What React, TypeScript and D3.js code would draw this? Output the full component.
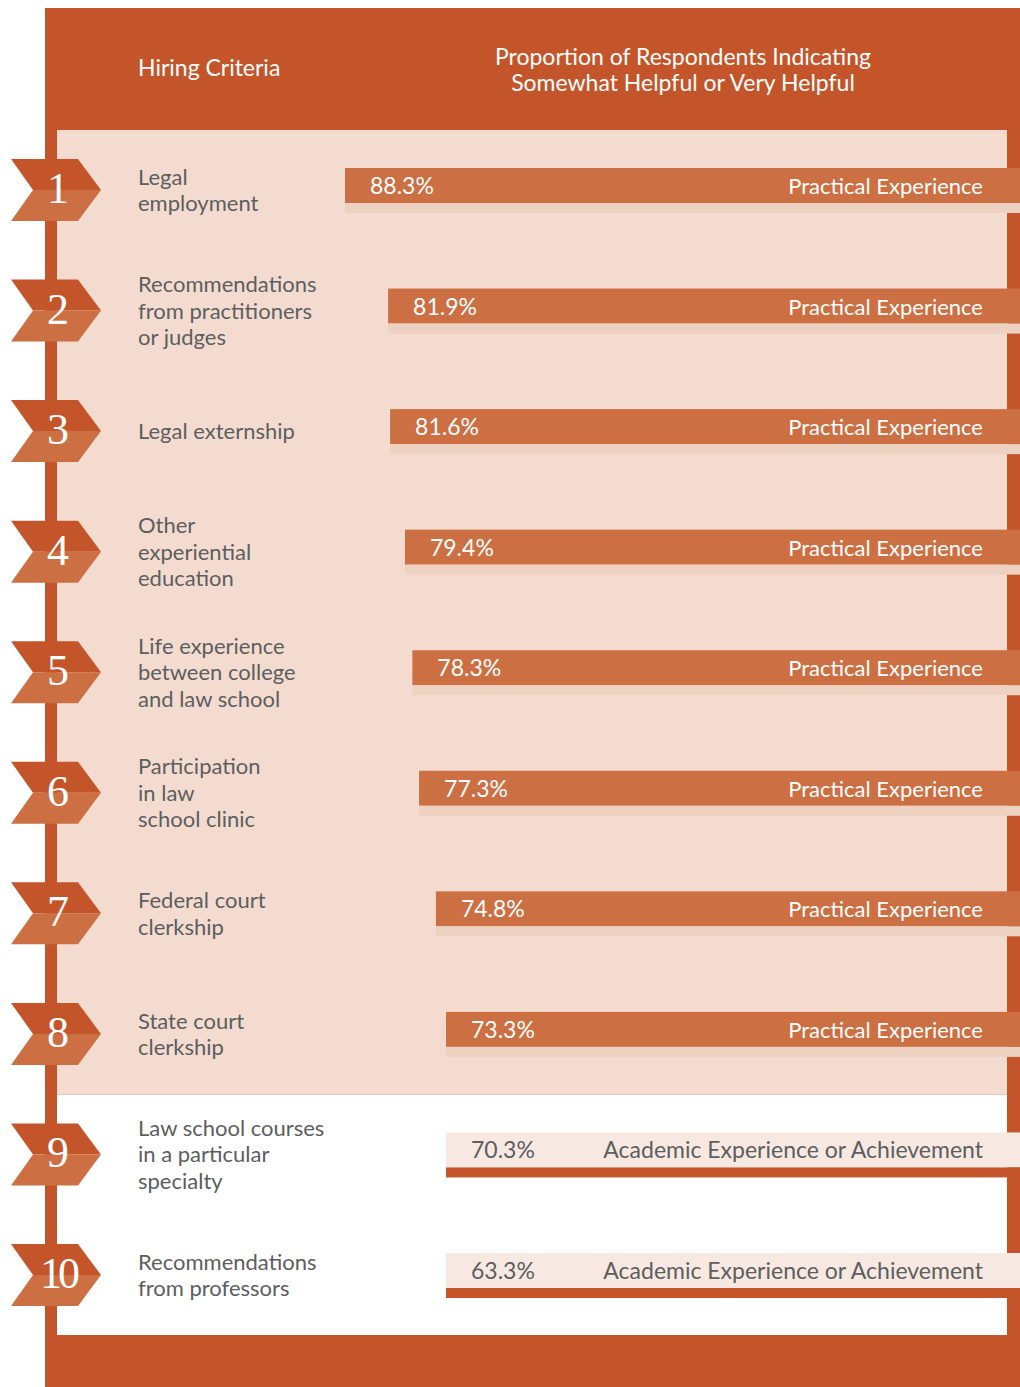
import * as d3 from 'd3';

// hiring criteria, top to bottom
const ranks = ['1', '2', '3', '4', '5', '6', '7', '8', '9', '10'];
const criteria = [
  ['Legal', 'employment'],
  ['Recommendations', 'from practitioners', 'or judges'],
  ['Legal externship'],
  ['Other', 'experiential', 'education'],
  ['Life experience', 'between college', 'and law school'],
  ['Participation', 'in law', 'school clinic'],
  ['Federal court', 'clerkship'],
  ['State court', 'clerkship'],
  ['Law school courses', 'in a particular', 'specialty'],
  ['Recommendations', 'from professors'],
];
const values = [88.3, 81.9, 81.6, 79.4, 78.3, 77.3, 74.8, 73.3, 70.3, 63.3];
const groups = [
  'Practical Experience', 'Practical Experience', 'Practical Experience', 'Practical Experience',
  'Practical Experience', 'Practical Experience', 'Practical Experience', 'Practical Experience',
  'Academic Experience or Achievement', 'Academic Experience or Achievement',
];
const headerLeft = 'Hiring Criteria';
const headerRight = ['Proportion of Respondents Indicating', 'Somewhat Helpful or Very Helpful'];

const W = 1020, H = 1387;
const DARK = '#c4552a';
const BAR = '#cc6f43';
const PANEL = '#f3dccf';
const SHADOW = '#edd2c1';
const LIGHTBAR = '#f7e9e1';
const GREY = '#5d5e60';
const FONT = 'Lato, "Open Sans", sans-serif';

const barH = 35;
const shadowH = 10;
const right = W;

export default function App() {
  const y = d3.scalePoint<string>().domain(ranks).range([168, 1253]);
  // bar width grows with the value; the academic rows sit at the floor
  const w = d3.scaleLinear().domain([73.3, 88.3]).range([574, 675]).clamp(true);

  const chevron = (mid: number) => {
    const top = mid - 31, bot = mid + 31;
    const upper = d3.line()([[11, top], [78, top], [101, mid], [33, mid]]) + 'Z';
    const lower = d3.line()([[33, mid], [101, mid], [78, bot], [11, bot]]) + 'Z';
    return { upper, lower };
  };

  const firstAcademic = groups.findIndex(g => g !== 'Practical Experience');
  const splitY = (y(ranks[firstAcademic - 1])! + barH + shadowH + y(ranks[firstAcademic])!) / 2;

  return (
    <svg width={W} height={H} style={{ position: 'absolute', left: 0, top: 0 }} fontFamily={FONT}>
      <rect x={0} y={0} width={W} height={H} fill="#fff" />
      {/* frame */}
      <rect x={45} y={8} width={W - 45} height={H - 8} fill={DARK} />
      <rect x={57} y={130} width={1007 - 57} height={splitY - 130} fill={PANEL} />
      <rect x={57} y={splitY} width={1007 - 57} height={1335 - splitY} fill="#fff" />

      <text x={138} y={76} fill="#fff" fontSize={23}>{headerLeft}</text>
      {headerRight.map((t, i) => (
        <text key={i} x={683} y={65 + i * 26} fill="#fff" fontSize={23} textAnchor="middle">{t}</text>
      ))}

      {ranks.map((r, i) => {
        const top = y(r)!;
        const mid = top + 22;
        const x0 = right - w(values[i]);
        const practical = groups[i] === 'Practical Experience';
        const ch = chevron(mid);
        const lines = criteria[i];
        const startY = mid - ((lines.length - 1) * 26.7) / 2 + 8;
        return (
          <g key={r}>
            <path d={ch.upper} fill={DARK} />
            <path d={ch.lower} fill={BAR} />
            <text x={58} y={mid + 13} fill="#fff" fontFamily='"Liberation Serif", "DejaVu Serif", serif'
              fontSize={44} textAnchor="middle" letterSpacing={r.length > 1 ? -4 : 0}>{r}</text>

            {lines.map((t, j) => (
              <text key={j} x={138} y={startY + j * 26.7} fill={GREY} fontSize={22}>{t}</text>
            ))}

            <rect x={x0} y={top} width={right - x0} height={barH} fill={practical ? BAR : LIGHTBAR} />
            <rect x={x0} y={top + barH} width={right - x0} height={shadowH} fill={practical ? SHADOW : DARK} />
            <text x={x0 + 25} y={top + 26} fill={practical ? '#fff' : GREY} fontSize={23}>
              {values[i].toFixed(1)}%
            </text>
            <text x={983} y={top + 26} fill={practical ? '#fff' : GREY} fontSize={practical ? 22 : 23} textAnchor="end">
              {groups[i]}
            </text>
          </g>
        );
      })}
    </svg>
  );
}
